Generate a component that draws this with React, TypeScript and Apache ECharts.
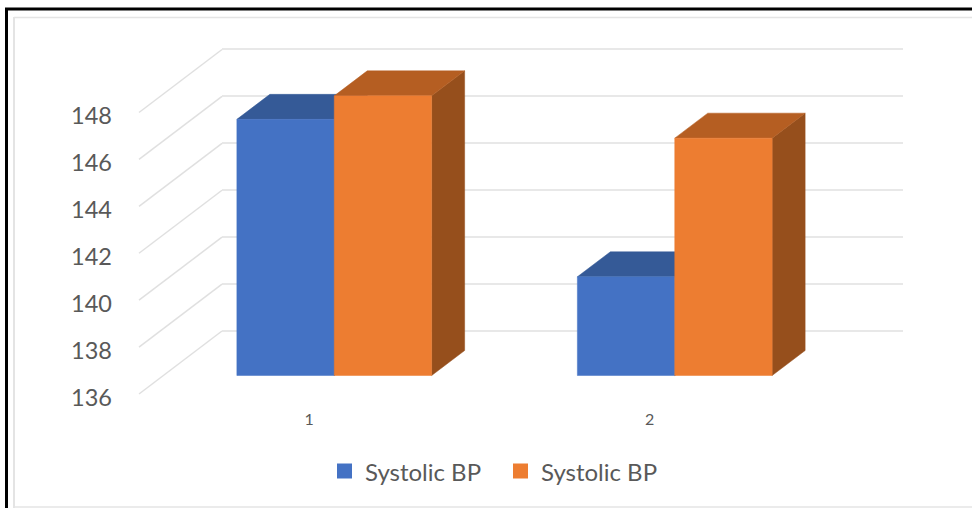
import React, { useEffect, useRef } from "react";
import * as echarts from "echarts";

const categories = ["1", "2"];
const systolicBlue = [146.9, 140.2];
const systolicOrange = [147.9, 146.1];
const yMin = 136;
const yMax = 148;
const yStep = 2;
const yTicks = [136, 138, 140, 142, 144, 146, 148];

const seriesName = "Systolic BP";
const FONT = "Lato, 'Open Sans', sans-serif";
const TEXT = "#595959";
const GRID_LINE = "#E0E0E0";

// Oblique projection of the 3D box: the bar's depth, and the full floor depth.
const BAR_DX = 33;
const BAR_DY = -25;
const FLOOR_DX = 83;
const FLOOR_DY = -63;
const BAR_BAND_SHARE = 0.286;

const poly = (points: number[][], fill: string) => ({
  type: "polygon",
  shape: { points },
  style: { fill, stroke: fill, lineWidth: 0.5 },
});

// A bar as three faces; side 0 sits left of the category centre, side 1 right of it.
const boxRenderer = (side: number, front: string, top: string, flank: string) =>
  (_params: any, api: any) => {
    const cat = api.value(0);
    const [cx, yTop] = api.coord([cat, api.value(1)]);
    const [, yBase] = api.coord([cat, yMin]);
    const w = api.size([1, 0])[0] * BAR_BAND_SHARE;
    const x0 = cx + (side - 1) * w;
    const x1 = x0 + w;
    return {
      type: "group",
      children: [
        poly(
          [
            [x1, yBase],
            [x1 + BAR_DX, yBase + BAR_DY],
            [x1 + BAR_DX, yTop + BAR_DY],
            [x1, yTop],
          ],
          flank,
        ),
        poly(
          [
            [x0, yTop],
            [x0 + BAR_DX, yTop + BAR_DY],
            [x1 + BAR_DX, yTop + BAR_DY],
            [x1, yTop],
          ],
          top,
        ),
        poly(
          [
            [x0, yTop],
            [x1, yTop],
            [x1, yBase],
            [x0, yBase],
          ],
          front,
        ),
      ],
    };
  };

// Slanted side-wall gridline running from the front plane back to the wall.
const sideWallLine = (_params: any, api: any) => {
  const [x, y] = api.coord([0, api.value(0)]);
  const left = x - api.size([1, 0])[0] / 2;
  return {
    type: "line",
    shape: { x1: left, y1: y, x2: left + FLOOR_DX, y2: y + FLOOR_DY },
    style: { stroke: GRID_LINE, lineWidth: 1.5 },
  };
};

const valueAxisBase = { type: "value", min: yMin, max: yMax, interval: yStep };
const hiddenBits = {
  axisLine: { show: false },
  axisTick: { show: false },
  axisLabel: { show: false },
  splitLine: { show: false },
};

export default function App() {
  const ref = useRef<HTMLDivElement>(null);

  useEffect(() => {
    document.body.style.margin = "0";
    document.body.style.background = "#fff";
    const chart = echarts.init(ref.current!, undefined, { renderer: "svg" });
    const legendText = { fontFamily: FONT, fontSize: 24, color: TEXT, padding: [0, 0, 0, 8] };
    chart.setOption({
      animation: false,
      backgroundColor: "#ffffff",
      textStyle: { fontFamily: FONT },
      grid: [
        // bar front plane
        { left: 164, top: 93.5, width: 681, height: 282 },
        // front edge of the floor, carries the axis labels
        { left: 139, top: 112.5, width: 681, height: 281.5 },
        // back wall, carries the horizontal gridlines
        { left: 222, top: 49, width: 681, height: 282 },
      ],
      xAxis: [
        { type: "category", gridIndex: 0, data: categories, ...hiddenBits },
        {
          type: "category",
          gridIndex: 1,
          data: categories,
          axisLine: { show: false },
          axisTick: { show: false },
          axisLabel: { fontFamily: FONT, fontSize: 16, color: TEXT, margin: 16 },
        },
        { type: "category", gridIndex: 2, data: categories, ...hiddenBits },
      ],
      yAxis: [
        { ...valueAxisBase, gridIndex: 0, ...hiddenBits },
        {
          ...valueAxisBase,
          gridIndex: 1,
          axisLine: { show: false },
          axisTick: { show: false },
          splitLine: { show: false },
          axisLabel: {
            fontFamily: FONT,
            fontSize: 23.5,
            color: TEXT,
            margin: 27,
            // labels sit a little below their tick
            verticalAlign: "top",
            lineHeight: 5,
          },
        },
        {
          ...valueAxisBase,
          gridIndex: 2,
          axisLine: { show: false },
          axisTick: { show: false },
          axisLabel: { show: false },
          splitLine: { show: true, lineStyle: { color: GRID_LINE, width: 1.5 } },
        },
      ],
      legend: [
        {
          left: 332,
          top: 454,
          itemWidth: 15,
          itemHeight: 15,
          selectedMode: false,
          textStyle: legendText,
          data: [{ name: seriesName, icon: "rect", itemStyle: { color: "#4472C4" } }],
        },
        {
          left: 508,
          top: 454,
          itemWidth: 15,
          itemHeight: 15,
          selectedMode: false,
          textStyle: legendText,
          data: [{ name: seriesName, icon: "rect", itemStyle: { color: "#ED7D31" } }],
        },
      ],
      series: [
        {
          type: "custom",
          name: "side wall",
          xAxisIndex: 1,
          yAxisIndex: 1,
          silent: true,
          z: 1,
          data: yTicks.map((v) => [v]),
          encode: { y: 0 },
          renderItem: sideWallLine,
        },
        {
          type: "custom",
          name: seriesName,
          xAxisIndex: 0,
          yAxisIndex: 0,
          z: 2,
          itemStyle: { color: "#4472C4" },
          data: systolicBlue.map((v, i) => [i, v]),
          encode: { x: 0, y: 1 },
          renderItem: boxRenderer(0, "#4472C4", "#355A97", "#2F5291"),
        },
        {
          type: "custom",
          name: seriesName,
          xAxisIndex: 0,
          yAxisIndex: 0,
          z: 3,
          itemStyle: { color: "#ED7D31" },
          data: systolicOrange.map((v, i) => [i, v]),
          encode: { x: 0, y: 1 },
          renderItem: boxRenderer(1, "#ED7D31", "#B55E22", "#964F1C"),
        },
      ],
      graphic: [
        // pale chart-area outline inside the black frame
        { type: "line", shape: { x1: 14, y1: 17.5, x2: 972, y2: 17.5 }, style: { stroke: "#E4E4E4", lineWidth: 1.5 } },
        { type: "line", shape: { x1: 14, y1: 17, x2: 14, y2: 508 }, style: { stroke: "#E4E4E4", lineWidth: 2 } },
        { type: "line", shape: { x1: 14, y1: 507, x2: 972, y2: 507 }, style: { stroke: "#E4E4E4", lineWidth: 1.5 } },
        // black outer frame, open at the bottom
        { type: "line", shape: { x1: 5, y1: 9, x2: 972, y2: 9 }, style: { stroke: "#000000", lineWidth: 3 } },
        { type: "line", shape: { x1: 6.5, y1: 8, x2: 6.5, y2: 508 }, style: { stroke: "#000000", lineWidth: 3 } },
      ],
    });
    return () => chart.dispose();
  }, []);

  return <div ref={ref} style={{ width: 972, height: 508 }} />;
}
